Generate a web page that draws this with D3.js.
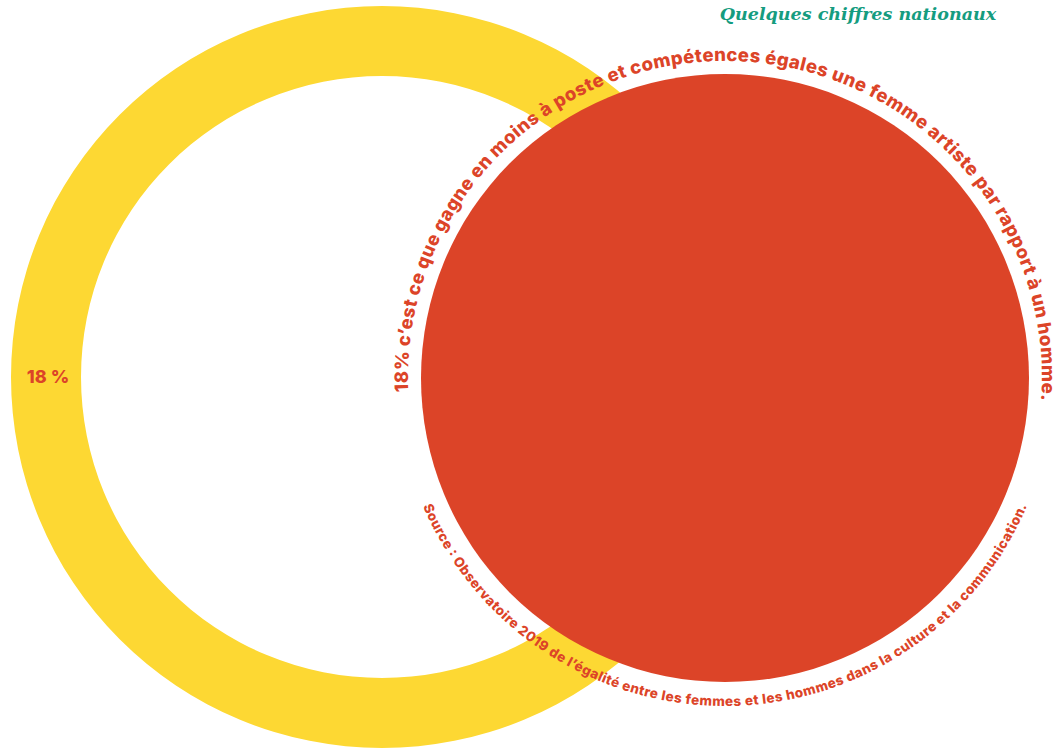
<!DOCTYPE html>
<html>
<head>
<meta charset="utf-8">
<script src="https://cdn.jsdelivr.net/npm/d3@7"></script>
<style>
  body { margin: 0; background: #fff; }
  svg { display: block; }
</style>
</head>
<body>
<script>
// data
var title = "Quelques chiffres nationaux";
var statValue = [18];
var statLabel = ["18 %"];
var statement = ["18% c\u2019est ce que gagne en moins à poste et compétences égales une femme artiste par rapport à un homme."];
var source = ["Source : Observatoire 2019 de l\u2019égalité entre les femmes et les hommes dans la culture et la communication."];

var w = 1064, h = 751;
var yellow = "#fdd833", red = "#dc4428", teal = "#159c7f";
var rad = function(d) { return d * Math.PI / 180; };

var svg = d3.select("body").append("svg")
  .attr("width", w)
  .attr("height", h);

// yellow ring
var ring = svg.append("g").attr("transform", "translate(382,377)");
ring.selectAll("path")
  .data(d3.pie().sort(null)([100]))
  .enter()
  .append("path")
  .attr("d", d3.arc().innerRadius(301).outerRadius(371))
  .attr("fill", yellow);

ring.append("text")
  .attr("x", -334)
  .attr("y", 6)
  .attr("text-anchor", "middle")
  .attr("font-family", "Inter, sans-serif")
  .attr("font-weight", 800)
  .attr("font-size", 18)
  .attr("fill", red)
  .text(statLabel[0]);

// red disc
var cx = 725, cy = 378;
svg.append("path")
  .attr("transform", "translate(" + cx + "," + cy + ")")
  .attr("d", d3.arc().innerRadius(0).outerRadius(304).startAngle(0).endAngle(2 * Math.PI)())
  .attr("fill", red);

// text paths
var defs = svg.append("defs");
var rTop = 317, aTop0 = 177.5, aTop1 = 364;
var pTop = d3.path();
pTop.arc(cx, cy, rTop, rad(aTop0), rad(aTop1), false);
defs.append("path").attr("id", "topArc").attr("d", pTop.toString());

var rBot = 328, aBot0 = 157, aBot1 = 23;
var pBot = d3.path();
pBot.arc(cx, cy, rBot, rad(aBot0), rad(aBot1), true);
defs.append("path").attr("id", "botArc").attr("d", pBot.toString());

svg.append("text")
  .attr("font-family", "Inter, sans-serif")
  .attr("font-weight", 800)
  .attr("font-size", 18.5)
  .attr("fill", red)
  .append("textPath")
  .attr("href", "#topArc")
  .attr("textLength", rTop * rad(aTop1 - aTop0))
  .attr("lengthAdjust", "spacing")
  .text(statement[0]);

svg.append("text")
  .attr("font-family", "Inter, sans-serif")
  .attr("font-weight", 800)
  .attr("font-size", 13.5)
  .attr("fill", red)
  .append("textPath")
  .attr("href", "#botArc")
  .attr("textLength", rBot * rad(aBot0 - aBot1))
  .attr("lengthAdjust", "spacing")
  .text(source[0]);

// title
svg.append("text")
  .attr("x", 858)
  .attr("y", 20)
  .attr("text-anchor", "middle")
  .attr("font-family", "'DejaVu Serif', serif")
  .attr("font-style", "italic")
  .attr("font-weight", 700)
  .attr("font-size", 17.5)
  .attr("fill", teal)
  .text(title);
</script>
</body>
</html>
